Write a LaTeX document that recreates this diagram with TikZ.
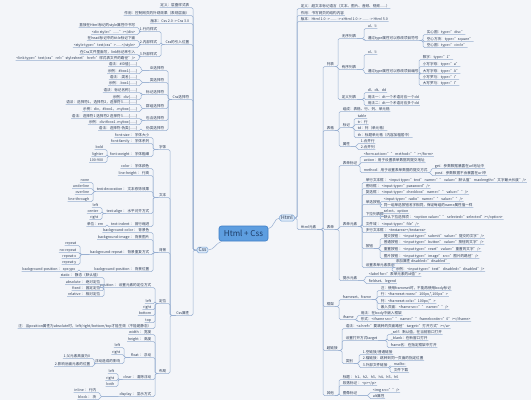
\documentclass[tikz,border=0pt]{standalone}
\usepackage{fontspec}
\setmainfont{Noto Sans CJK SC}
\usetikzlibrary{calc}
\definecolor{bg}{HTML}{F3F5F9}
\definecolor{ln}{HTML}{98AFD1}
\definecolor{tx}{HTML}{2A3A55}
\definecolor{rootfill}{HTML}{5E9EE0}
\definecolor{rootline}{HTML}{3F7EC6}
\definecolor{roottext}{HTML}{1C3B66}
\definecolor{subfill}{HTML}{D9E7F7}
\definecolor{subline}{HTML}{7FA8D8}
\newcommand\Lnode[4]{\node[lbl,anchor=east] (#1) at (#2,#3) {#4};}
\newcommand\Rnode[4]{\node[lbl,anchor=west] (#1) at (#2,#3) {#4};}
\newcommand\Lcon[2]{\draw[cn] (#1) -- ([xshift=3pt]#2.south east |- #1) -- ([xshift=3pt]#2.south east) -- (#2.south west);}
\newcommand\Rcon[2]{\draw[cn] (#1) -- ([xshift=-3pt]#2.south west |- #1) -- ([xshift=-3pt]#2.south west) -- (#2.south east);}
\begin{document}
\begin{tikzpicture}[x=1pt,y=-1pt,
  lbl/.style={font=\fontsize{3.6}{4.2}\selectfont, text=tx, inner xsep=0.6pt, inner ysep=0.5pt, text height=2.8pt, text depth=0.8pt},
  cn/.style={draw=ln, line width=0.5pt, rounded corners=1.5pt},
  subbox/.style={draw=subline, fill=subfill, rounded corners=1.5pt, text=tx, font=\fontsize{5}{6}\selectfont, inner xsep=1.5pt, inner ysep=1pt, line width=0.5pt},
  rootbox/.style={draw=rootline, fill=rootfill, rounded corners=2.5pt, text=roottext, font=\fontsize{8}{9}\selectfont, minimum width=49pt, minimum height=15pt, line width=0.6pt}]
\fill[bg] (0,0) rectangle (531,400);
\useasboundingbox (0,0) rectangle (531,400);
% central
\node[rootbox] (root) at (243.5,233.5) {Html + Css};
\node[subbox] (css) at (202.5,250) {Css};
\node[subbox] (html) at (287,218) {Html};
\draw[cn] (css.east) .. controls (214,250) and (216,243) .. ([xshift=3pt]root.south west);
\draw[cn] ([yshift=-3pt]root.north east) .. controls (274,228) and (274,218) .. (html.west);
% ---------------- Css side
\Lnode{c1}{190}{5}{定义：层叠样式表}
\Lnode{c2}{190}{13}{作用：控制网页的外观效果（表现层面）}
\Lnode{c3}{190}{21}{版本：Css 2.0 -> Css 3.0}
\Lnode{c4}{190}{42}{Css的引入位置}
\Lnode{c5}{190}{97}{Css选择符}
\Lnode{c6}{190}{313}{Css属性}
\foreach \n in {c1,c2,c3,c4,c5,c6}{\Lcon{css.west}{\n}}
\Lnode{c41}{158}{29}{1.行内样式}
\Lnode{c42}{158}{42}{2.内部样式}
\Lnode{c43}{158}{54}{3.外部样式}
\foreach \n in {c41,c42,c43}{\Lcon{c4.south west}{\n}}
\Lnode{c411}{136}{25}{直接在Html标记的style属性中书写}
\Lnode{c412}{136}{32}{<div style="......"></div>}
\Lnode{c421}{136}{38}{在head标记中的title标记下面}
\Lnode{c422}{136}{45}{<style type="text/css">......</style>}
\Lnode{c431}{136}{52}{在Css文件里面写，link标记来引入}
\Lnode{c432}{136}{58}{<link type="text/css" rel="stylesheet" href="样式表文件的路径"/>}
\Lcon{c41.south west}{c411}\Lcon{c41.south west}{c412}
\Lcon{c42.south west}{c421}\Lcon{c42.south west}{c422}
\Lcon{c43.south west}{c431}\Lcon{c43.south west}{c432}
\Lnode{c51}{165}{68}{ID选择符}
\Lnode{c52}{165}{80}{类选择符}
\Lnode{c53}{165}{92}{标记选择符}
\Lnode{c54}{165}{106}{群组选择符}
\Lnode{c55}{165}{118}{包含选择符}
\Lnode{c56}{165}{128}{伪类选择符}
\foreach \n in {c51,c52,c53,c54,c55,c56}{\Lcon{c5.south west}{\n}}
\Lnode{c511}{138}{64}{语法：\#ID值\{......\}}
\Lnode{c512}{138}{71}{示例：\#box1\{......\}}
\Lnode{c521}{138}{77}{语法：.类名\{......\}}
\Lnode{c522}{138}{83}{示例：.box1\{......\}}
\Lnode{c531}{138}{90}{语法：标记名称\{......\}}
\Lnode{c532}{138}{97}{示例：div\{......\}}
\Lnode{c541}{138}{102}{语法：选择符1，选择符2，选择符3......\{......\}}
\Lnode{c542}{138}{109}{示例：div，\#box1，.mybox\{......\}}
\Lnode{c551}{138}{116}{语法：选择符1 选择符2 选择符3......\{......\}}
\Lnode{c552}{138}{122}{示例：div \#box1 .mybox\{......\}}
\Lnode{c561}{138}{128}{语法：选择符:伪类\{......\}}
\Lcon{c51.south west}{c511}\Lcon{c51.south west}{c512}
\Lcon{c52.south west}{c521}\Lcon{c52.south west}{c522}
\Lcon{c53.south west}{c531}\Lcon{c53.south west}{c532}
\Lcon{c54.south west}{c541}\Lcon{c54.south west}{c542}
\Lcon{c55.south west}{c551}\Lcon{c55.south west}{c552}
\Lcon{c56.south west}{c561}
\Lnode{c61}{167}{147}{字体}
\Lnode{c62}{167}{195}{文本}
\Lnode{c63}{167}{250}{背景}
\Lnode{c64}{167}{301}{定位}
\Lnode{c65}{167}{371}{布局}
\foreach \n in {c61,c62,c63,c64,c65}{\Lcon{c6.south west}{\n}}
% font
\Lnode{f1}{150}{135}{font-size ： 字体大小}
\Lnode{f2}{150}{141}{font-family ： 字体系列}
\Lnode{f3}{150}{154}{font-weight ： 字体粗细}
\foreach \n in {f1,f2,f3}{\Lcon{c61.south west}{\n}}
\Lnode{f31}{104}{147}{bold}
\Lnode{f32}{104}{154}{lighter}
\Lnode{f33}{104}{160}{100-900}
\foreach \n in {f31,f32,f33}{\Lcon{f3.south west}{\n}}
% text
\Lnode{t1}{150}{166}{color ： 字体颜色}
\Lnode{t2}{150}{173}{line-height ： 行高}
\Lnode{t3}{150}{189}{text-decoration ： 文本修饰效果}
\Lnode{t4}{150}{211}{text-align ： 水平对齐方式}
\Lnode{t5}{150}{224}{text-indent ： 首行缩进}
\foreach \n in {t1,t2,t3,t4,t5}{\Lcon{c62.south west}{\n}}
\Lnode{t31}{90}{180}{none}
\Lnode{t32}{90}{186}{underline}
\Lnode{t33}{90}{192}{overline}
\Lnode{t34}{90}{199}{line-through}
\foreach \n in {t31,t32,t33,t34}{\Lcon{t3.south west}{\n}}
\Lnode{t41}{99}{205}{left}
\Lnode{t42}{99}{211}{center}
\Lnode{t43}{99}{217}{right}
\foreach \n in {t41,t42,t43}{\Lcon{t4.south west}{\n}}
\Lnode{t51}{104}{224}{单位：em}
\Lcon{t5.south west}{t51}
% background
\Lnode{b1}{150}{230}{background-color ： 背景色}
\Lnode{b2}{150}{237}{background-image ： 背景图片}
\Lnode{b3}{150}{252}{background-repeat ： 背景重复方式}
\Lnode{b4}{150}{269}{background-position ： 背景位置}
\foreach \n in {b1,b2,b3,b4}{\Lcon{c63.south west}{\n}}
\Lnode{b31}{77}{243}{repeat}
\Lnode{b32}{77}{250}{no-repeat}
\Lnode{b33}{77}{256}{repeat-x}
\Lnode{b34}{77}{262}{repeat-y}
\foreach \n in {b31,b32,b33,b34}{\Lcon{b3.south west}{\n}}
\Lnode{b41}{76}{269}{background-position ： xpx ypx}
\Lcon{b4.south west}{b41}
% position
\Lnode{p1}{152}{285}{position ： 设置元素的定位方式}
\Lnode{p2}{152}{301}{left}
\Lnode{p3}{152}{307}{right}
\Lnode{p4}{152}{313}{bottom}
\Lnode{p5}{152}{320}{top}
\Lnode{p6}{152}{326}{注：当position属性为absolute时，left/right/bottom/top才能生效（不能是静态）}
\foreach \n in {p1,p2,p3,p4,p5,p6}{\Lcon{c64.south west}{\n}}
\Lnode{p11}{101}{275}{static ： 静态（默认值）}
\Lnode{p12}{101}{282}{absolute ： 绝对定位}
\Lnode{p13}{101}{288}{fixed ： 固定定位}
\Lnode{p14}{101}{294}{relative ： 相对定位}
\foreach \n in {p11,p12,p13,p14}{\Lcon{p1.south west}{\n}}
% layout
\Lnode{l1}{152}{332}{width ： 宽度}
\Lnode{l2}{152}{339}{height ： 高度}
\Lnode{l3}{152}{355}{float ： 浮动}
\Lnode{l4}{152}{377}{clear ： 清除浮动}
\Lnode{l5}{152}{394}{display ： 显示方式}
\foreach \n in {l1,l2,l3,l4,l5}{\Lcon{c65.south west}{\n}}
\Lnode{l31}{121}{345}{left}
\Lnode{l32}{121}{352}{right}
\Lnode{l33}{121}{361}{浮动造成的影响}
\foreach \n in {l31,l32,l33}{\Lcon{l3.south west}{\n}}
\Lnode{l331}{91}{356}{1.父元素高度为0}
\Lnode{l332}{91}{364}{2.影响后面元素的位置}
\Lcon{l33.south west}{l331}\Lcon{l33.south west}{l332}
\Lnode{l41}{115}{371}{left}
\Lnode{l42}{115}{378}{right}
\Lnode{l43}{115}{384}{both}
\foreach \n in {l41,l42,l43}{\Lcon{l4.south west}{\n}}
\Lnode{l51}{97}{390}{inline ： 行内}
\Lnode{l52}{97}{397}{block ： 块}
\Lcon{l5.south west}{l51}\Lcon{l5.south west}{l52}
% ---------------- Html side
\Rnode{h1}{300}{6}{定义：超文本标记语言（文本、图片、音频、视频......）}
\Rnode{h2}{300}{13}{作用：书写网页的结构内容}
\Rnode{h3}{300}{19}{版本：Html 1.0 -> ...... -> xHtml 1.0 -> ...... -> Html 5.0}
\Rnode{h4}{300}{227}{Html元素}
\foreach \n in {h1,h2,h3,h4}{\Rcon{html.east}{\n}}
\Rnode{hA}{326}{64}{列表}
\Rnode{hB}{326}{128}{表格}
\Rnode{hC}{326}{227}{表单}
\Rnode{hD}{326}{304}{框架}
\Rnode{hE}{326}{348}{超链接}
\Rnode{hF}{326}{393}{其他}
\foreach \n in {hA,hB,hC,hD,hE,hF}{\Rcon{h4.south east}{\n}}
% lists
\Rnode{hA1}{341}{36}{无序列表}
\Rnode{hA2}{341}{67}{有序列表}
\Rnode{hA3}{341}{97}{定义列表}
\foreach \n in {hA1,hA2,hA3}{\Rcon{hA.south east}{\n}}
\Rnode{u1}{367}{26}{ul、li}
\Rnode{u2}{367}{38}{通过type属性可以修改项目符号}
\Rcon{hA1.south east}{u1}\Rcon{hA1.south east}{u2}
\Rnode{u21}{426}{32}{实心圆：type="disc"}
\Rnode{u22}{426}{39}{空心方块：type="square"}
\Rnode{u23}{426}{45}{空心圆：type="circle"}
\foreach \n in {u21,u22,u23}{\Rcon{u2.south east}{\n}}
\Rnode{o1}{367}{52}{ol、li}
\Rnode{o2}{367}{71}{通过type属性可以修改项目编号}
\Rcon{hA2.south east}{o1}\Rcon{hA2.south east}{o2}
\Rnode{o21}{422}{57}{数字：type="1"}
\Rnode{o22}{422}{64}{小写字母：type="a"}
\Rnode{o23}{422}{71}{大写字母：type="A"}
\Rnode{o24}{422}{77}{小写罗马：type="i"}
\Rnode{o25}{422}{83}{大写罗马：type="I"}
\foreach \n in {o21,o22,o23,o24,o25}{\Rcon{o2.south east}{\n}}
\Rnode{d1}{367}{90}{dl、dt、dd}
\Rnode{d2}{367}{97}{用法一：dt一个术语对应一个dd}
\Rnode{d3}{367}{103}{用法二：dt一个术语对应多个dd}
\foreach \n in {d1,d2,d3}{\Rcon{hA3.south east}{\n}}
% tables
\Rnode{hB1}{342}{109}{组成：表格、行、列、单元格}
\Rnode{hB2}{342}{125}{标记}
\Rnode{hB3}{342}{144}{属性}
\foreach \n in {hB1,hB2,hB3}{\Rcon{hB.south east}{\n}}
\Rnode{tb1}{357}{116}{table}
\Rnode{tb2}{357}{122}{tr：行}
\Rnode{tb3}{357}{128}{td：列（单元格）}
\Rnode{tb4}{357}{135}{th：标题单元格（内容加粗居中）}
\foreach \n in {tb1,tb2,tb3,tb4}{\Rcon{hB2.south east}{\n}}
\Rnode{ta1}{360}{141}{1.合并行}
\Rnode{ta2}{360}{147}{2.合并列}
\Rcon{hB3.south east}{ta1}\Rcon{hB3.south east}{ta2}
% forms
\Rnode{hC1}{342}{163}{表单标记}
\Rnode{hC2}{342}{224}{表单元素}
\Rnode{hC3}{342}{278}{提示元素}
\foreach \n in {hC1,hC2,hC3}{\Rcon{hC.south east}{\n}}
\Rnode{fm1}{363}{154}{<form action="" method=""></form>}
\Rnode{fm2}{363}{160}{action：用于设置表单数据的提交地址}
\Rnode{fm3}{363}{170}{method：用于设置表单数据的提交方式}
\foreach \n in {fm1,fm2,fm3}{\Rcon{hC1.south east}{\n}}
\Rnode{fm31}{434}{166}{get：参数数据暴露在url地址中}
\Rnode{fm32}{434}{173}{post：参数数据不会暴露在url中}
\Rcon{fm3.south east}{fm31}\Rcon{fm3.south east}{fm32}
\Rnode{e1}{365}{180}{单行文本框 ： <input type="text" name="" value="默认值" maxlength="文字最大长度"/>}
\Rnode{e2}{365}{186}{密码框 ： <input type="password"/>}
\Rnode{e3}{365}{192}{复选框 ： <input type="checkbox" name="" value=""/>}
\Rnode{e4}{365}{202}{单选按钮}
\Rnode{e5}{365}{214}{下拉列表框}
\Rnode{e6}{365}{224}{文件域 ： <input type="file"/>}
\Rnode{e7}{365}{230}{多行文本框 ： <textarea></textarea>}
\Rnode{e8}{365}{246}{按钮}
\Rnode{e9}{365}{265}{设置表单元素禁用}
\foreach \n in {e1,e2,e3,e4,e5,e6,e7,e8,e9}{\Rcon{hC2.south east}{\n}}
\Rnode{e41}{383}{199}{<input type="radio" name="" value=""/>}
\Rnode{e42}{383}{205}{同一组单选按钮名字相同，保证每组的name属性值一样}
\Rcon{e4.south east}{e41}\Rcon{e4.south east}{e42}
\Rnode{e51}{383}{211}{select、option}
\Rnode{e52}{383}{217}{默认下拉选择项 ： <option value="" selected="selected"></option>}
\Rcon{e5.south east}{e51}\Rcon{e5.south east}{e52}
\Rnode{e81}{383}{236}{提交按钮 ：  <input type="submit" value="提交的文字"/>}
\Rnode{e82}{383}{242}{普通按钮 ：  <input type="button" value="按钮的文字"/>}
\Rnode{e83}{383}{249}{重置按钮 ：  <input type="reset" value="重置的文字"/>}
\Rnode{e84}{383}{256}{图片按钮 ：  <input type="image" src="图片的路径"/>}
\foreach \n in {e81,e82,e83,e84}{\Rcon{e8.south east}{\n}}
\Rnode{e91}{395}{261}{添加属性 disabled="disabled"}
\Rnode{e92}{395}{269}{示例： <input type="text" disabled="disabled"/>}
\Rcon{e9.south east}{e91}\Rcon{e9.south east}{e92}
\Rnode{g1}{368}{274}{<label for="表单元素的id值">}
\Rnode{g2}{368}{281}{fieldset、legend}
\Rcon{hC3.south east}{g1}\Rcon{hC3.south east}{g2}
% frames
\Rnode{hD1}{342}{297}{frameset、frame}
\Rnode{hD2}{342}{317}{iframe}
\Rcon{hD.south east}{hD1}\Rcon{hD.south east}{hD2}
\Rnode{fr1}{380}{288}{注：使用frameset时，不能再使用body标记}
\Rnode{fr2}{380}{294}{行：<frameset rows="100px,*,100px">}
\Rnode{fr3}{380}{301}{列：<frameset cols="100px,*">}
\Rnode{fr4}{380}{307}{嵌入页面：<frame src="" name=""/>}
\foreach \n in {fr1,fr2,fr3,fr4}{\Rcon{hD1.south east}{\n}}
\Rnode{if1}{360}{313}{用法：在body中嵌入框架}
\Rnode{if2}{360}{319}{形式：<iframe src="" name="" frameborder="0"></iframe>}
\Rcon{hD2.south east}{if1}\Rcon{hD2.south east}{if2}
% links
\Rnode{hE1}{345}{326}{语法：<a href="要跳转的页面路径" target="打开方式"></a>}
\Rnode{hE2}{345}{338}{设置打开方式target}
\Rnode{hE3}{345}{361}{类别}
\foreach \n in {hE1,hE2,hE3}{\Rcon{hE.south east}{\n}}
\Rnode{k1}{390}{332}{\_self：默认值，在当前窗口打开}
\Rnode{k2}{390}{338}{\_blank：在新窗口打开}
\Rnode{k3}{390}{345}{frame名：在指定框架中打开}
\foreach \n in {k1,k2,k3}{\Rcon{hE2.south east}{\n}}
\Rnode{m1}{362}{352}{1.空链接/普通链接}
\Rnode{m2}{362}{358}{2.锚链接：跳转到同一页面的指定位置}
\Rnode{m3}{362}{365}{3.外部文件链接}
\foreach \n in {m1,m2,m3}{\Rcon{hE3.south east}{\n}}
\Rnode{m31}{393}{364}{mailto:}
\Rnode{m32}{393}{370}{文件下载}
\Rcon{m3.south east}{m31}\Rcon{m3.south east}{m32}
% other
\Rnode{hF1}{342}{377}{标题 ： h1、h2、h3、h4、h5、h6}
\Rnode{hF2}{342}{383}{段落标记 ： <p></p>}
\Rnode{hF3}{342}{393}{图像标记}
\foreach \n in {hF1,hF2,hF3}{\Rcon{hF.south east}{\n}}
\Rnode{im1}{372}{390}{<img src=""/>}
\Rnode{im2}{372}{396}{alt属性}
\Rcon{hF3.south east}{im1}\Rcon{hF3.south east}{im2}
\end{tikzpicture}
\end{document}
